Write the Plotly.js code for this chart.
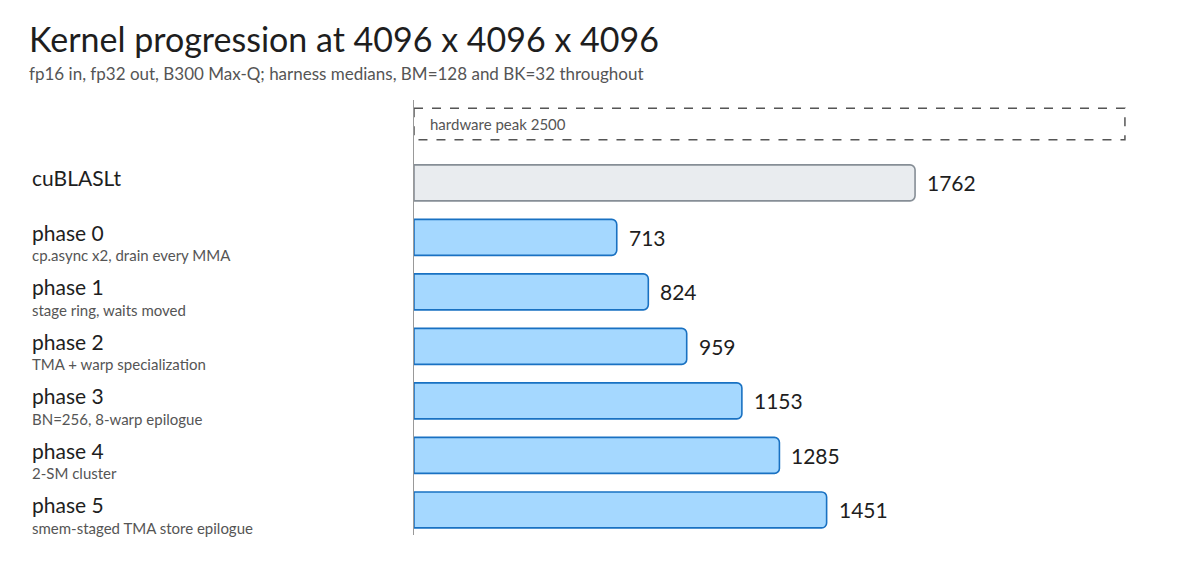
<!DOCTYPE html>
<html>
<head>
<meta charset="utf-8">
<script src="https://cdn.plot.ly/plotly-3.0.1.min.js"></script>
<style>
  body { margin: 0; background: #fff; }
  #chart { width: 1200px; height: 567px; }
</style>
</head>
<body>
<div id="chart"></div>
<script>
var KERNELS = ['cuBLASLt', 'phase 0', 'phase 1', 'phase 2', 'phase 3', 'phase 4', 'phase 5'];
var NOTES = ['', 'cp.async x2, drain every MMA', 'stage ring, waits moved',
             'TMA + warp specialization', 'BN=256, 8-warp epilogue',
             '2-SM cluster', 'smem-staged TMA store epilogue'];
var TFLOPS = [1762, 713, 824, 959, 1153, 1285, 1451];
var PEAK = 2500;
var PEAK_LABEL = 'hardware peak 2500';

var FONT = 'Lato, "Open Sans", sans-serif';
var CHART = document.getElementById('chart');

// row 0 is the peak box, kernels follow
var rows = KERNELS.map(function (k, i) { return i + 1; });

var fills = KERNELS.map(function (k) { return k === 'cuBLASLt' ? '#e9ecef' : '#a5d8ff'; });
var edges = KERNELS.map(function (k) { return k === 'cuBLASLt' ? '#868e96' : '#1971c2'; });

var bars = {
    type: 'bar',
    orientation: 'h',
    x: TFLOPS,
    y: rows,
    width: 0.66,
    marker: {color: fills, line: {color: edges, width: 1.6}},
    hoverinfo: 'x'
};

var annotations = [
    {xref: 'paper', yref: 'paper', x: -0.492, y: 1.1425, xanchor: 'left', yanchor: 'middle',
     text: 'Kernel progression at 4096 x 4096 x 4096', showarrow: false,
     font: {family: FONT, size: 34, color: '#1e1e1e'}},
    {xref: 'paper', yref: 'paper', x: -0.492, y: 1.062, xanchor: 'left', yanchor: 'middle',
     text: 'fp16 in, fp32 out, B300 Max-Q; harness medians, BM=128 and BK=32 throughout',
     showarrow: false, font: {family: FONT, size: 17, color: '#555'}},
    {xref: 'x', yref: 'y', x: 0, y: -0.08, xanchor: 'left', yanchor: 'middle', xshift: 14,
     text: PEAK_LABEL, showarrow: false, font: {family: FONT, size: 15, color: '#555'}}
];

// value labels just past each bar end
TFLOPS.forEach(function (v, i) {
    annotations.push({xref: 'x', yref: 'y', x: v, y: rows[i], xanchor: 'left', yanchor: 'middle',
                      xshift: 10, text: String(v), showarrow: false,
                      font: {family: FONT, size: 21, color: '#1e1e1e'}});
});

// row labels: name above, short note below
KERNELS.forEach(function (k, i) {
    annotations.push({xref: 'paper', yref: 'y', x: -0.489, y: rows[i],
                      xanchor: 'left', yanchor: 'middle', yshift: 5,
                      text: k, showarrow: false,
                      font: {family: FONT, size: 21, color: '#1e1e1e'}});
    if (NOTES[i]) {
        annotations.push({xref: 'paper', yref: 'y', x: -0.489, y: rows[i],
                          xanchor: 'left', yanchor: 'middle', yshift: -18,
                          text: NOTES[i], showarrow: false,
                          font: {family: FONT, size: 15, color: '#555'}});
    }
});

var layout = {
    width: 1200,
    height: 567,
    paper_bgcolor: '#fff',
    plot_bgcolor: '#fff',
    margin: {l: 414, r: 0, t: 100, b: 32},
    showlegend: false,
    barcornerradius: 5,
    xaxis: {range: [0, 2764], showgrid: false, zeroline: false, showticklabels: false,
            fixedrange: true},
    yaxis: {range: [7.46, -0.52], showgrid: false, zeroline: false, showticklabels: false,
            showline: true, linecolor: '#999', linewidth: 1.2, fixedrange: true},
    shapes: [
        {type: 'rect', xref: 'x', yref: 'y', x0: 0, x1: PEAK, y0: -0.37, y1: 0.21,
         line: {color: '#555', width: 1.5, dash: 'dash'}, fillcolor: 'rgba(0,0,0,0)'}
    ],
    annotations: annotations
};

Plotly.newPlot(CHART, [bars], layout, {displayModeBar: false, responsive: false});
</script>
</body>
</html>
